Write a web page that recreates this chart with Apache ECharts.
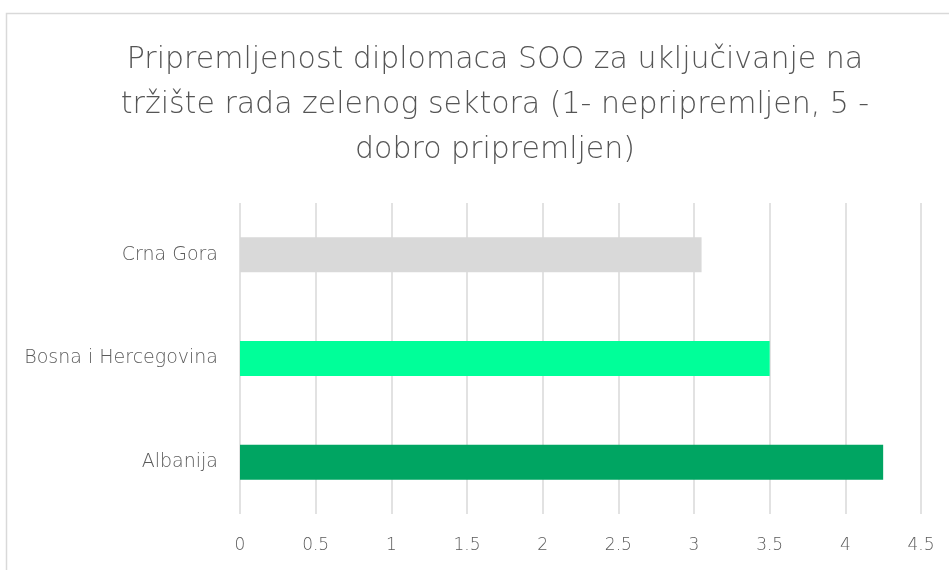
<!DOCTYPE html>
<html>
<head>
<meta charset="utf-8">
<script src="https://cdn.jsdelivr.net/npm/echarts@6/dist/echarts.min.js"></script>
<style>
  html, body { margin: 0; padding: 0; background: #fff; }
  #chart { width: 949px; height: 570px; }
</style>
</head>
<body>
<div id="chart"></div>
<script>
// podaci sa grafikona (odozdo prema gore)
const countries = ['Albanija', 'Bosna i Hercegovina', 'Crna Gora']
const scores = [4.25, 3.5, 3.05]
const barColors = ['#00a562', '#00ff99', '#d9d9d9']
const xTicks = [0, 0.5, 1, 1.5, 2, 2.5, 3, 3.5, 4, 4.5]

const chart = echarts.init(document.getElementById('chart'))

chart.setOption({
  animation: false,
  textStyle: { fontFamily: 'DejaVu Sans' },
  title: {
    text: 'Pripremljenost diplomaca SOO za uključivanje na\ntržište rada zelenog sektora (1- nepripremljen, 5 -\ndobro pripremljen)',
    left: 490,
    top: 33,
    textAlign: 'center',
    textStyle: {
      color: '#555555',
      fontSize: 30,
      fontWeight: 200,
      lineHeight: 45,
      fontFamily: 'DejaVu Sans'
    }
  },
  graphic: [
    {
      type: 'rect',
      shape: { x: 6.5, y: 13.5, width: 1000, height: 600 },
      style: { fill: 'none', stroke: '#d9d9d9', lineWidth: 1.5 },
      silent: true
    }
  ],
  grid: {
    left: 240,
    right: 28,
    top: 203,
    bottom: 56
  },
  xAxis: {
    type: 'value',
    min: xTicks[0],
    max: xTicks[xTicks.length - 1],
    interval: 0.5,
    axisLine: { show: false },
    axisTick: { show: false },
    axisLabel: {
      color: '#5a5a5a',
      fontSize: 17,
      fontWeight: 200,
      margin: 23
    },
    splitLine: {
      lineStyle: { color: '#d9d9d9', width: 1.5 }
    }
  },
  yAxis: {
    type: 'category',
    data: countries,
    axisLine: { show: false },
    axisTick: { show: false },
    axisLabel: {
      color: '#5a5a5a',
      fontSize: 19,
      fontWeight: 200,
      margin: 22
    }
  },
  series: [
    {
      type: 'bar',
      barWidth: 35,
      data: scores.map((v, i) => ({
        value: v,
        itemStyle: { color: barColors[i] }
      }))
    }
  ]
})
</script>
</body>
</html>
